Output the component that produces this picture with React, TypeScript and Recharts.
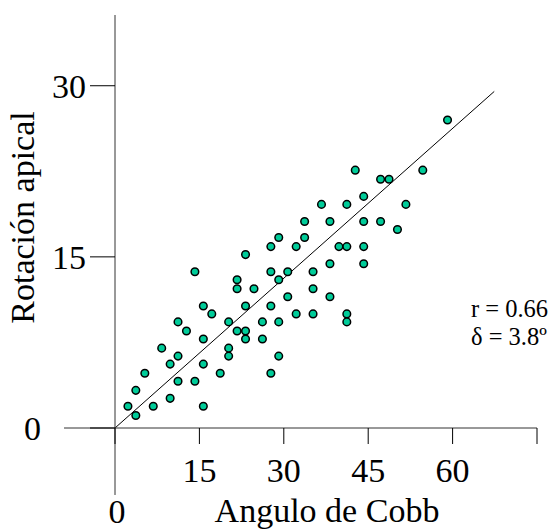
import { ScatterChart, Scatter, XAxis, YAxis, ReferenceLine } from 'recharts';

document.body.style.margin = '0';

const FONT = "'Liberation Serif', 'Times New Roman', serif";

// Angulo de Cobb (x) and Rotación apical (y)
const cobbAngle = [
  2.3, 3.7, 3.7, 5.3, 6.8, 8.3, 9.8, 9.8, 11.2, 11.2,
  11.2, 12.7, 14.2, 14.2, 15.7, 15.7, 15.7, 15.7, 17.2, 18.7,
  20.2, 20.2, 20.2, 21.7, 21.7, 21.7, 23.2, 23.2, 23.2, 23.2,
  24.7, 26.2, 26.2, 27.7, 27.7, 27.7, 27.7, 29.1, 29.1, 29.1,
  29.1, 30.7, 30.7, 32.2, 32.2, 33.7, 33.7, 35.2, 35.2, 35.2,
  59.1, 42.7, 47.2, 48.7, 54.7, 44.2, 36.7, 41.2, 51.7, 38.2,
  44.2, 47.2, 50.2, 39.8, 41.2, 44.2, 38.2, 44.2, 38.2, 41.2,
  41.2,
];
const apicalRotation = [
  1.9, 1.1, 3.3, 4.8, 1.9, 7.0, 2.6, 5.6, 6.3, 4.1,
  9.3, 8.5, 13.7, 4.1, 1.9, 5.6, 7.8, 10.7, 10.0, 4.8,
  6.3, 7.0, 9.3, 8.5, 12.2, 13.0, 15.2, 10.7, 8.5, 7.8,
  12.2, 9.3, 7.8, 15.9, 13.7, 10.7, 4.8, 16.7, 13.0, 9.3,
  6.3, 13.7, 11.5, 15.9, 10.0, 18.1, 16.7, 13.7, 12.2, 10.0,
  27.0, 22.6, 21.8, 21.8, 22.6, 20.3, 19.6, 19.6, 19.6, 18.1,
  18.1, 18.1, 17.4, 15.9, 15.9, 15.9, 14.4, 14.4, 11.5, 10.0,
  9.3,
];

const xTicks = [0, 15, 30, 45, 60, 75];
const yTicks = [0, 15, 30];

// regression line end points
const fitLine = [
  { x: 0, y: 0 },
  { x: 67.4, y: 29.5 },
];

const stats = ['r = 0.66', 'δ = 3.8º'];

const data = cobbAngle.map((x, i) => ({ x, y: apicalRotation[i] }));

const XTick = (props: any) => {
  const { x, y, payload } = props;
  if (payload.value === 75) return <g />;
  const isZero = payload.value === 0;
  return (
    <text
      x={isZero ? x + 2 : x}
      y={isZero ? y + 41 : y}
      dy="0.71em"
      textAnchor="middle"
      fontSize={34}
      fontFamily={FONT}
      fill="#000"
    >
      {payload.value}
    </text>
  );
};

const YTick = (props: any) => {
  const { x, y, payload } = props;
  const isZero = payload.value === 0;
  return (
    <text
      x={isZero ? 32.5 : x}
      y={y}
      dy="0.35em"
      textAnchor={isZero ? 'middle' : 'end'}
      fontSize={34}
      fontFamily={FONT}
      fill="#000"
    >
      {payload.value}
    </text>
  );
};

const renderXLabel = (props: any) => {
  const { x, y, width, height } = props.viewBox;
  return (
    <g>
      <text
        x={x + width / 2 + 1}
        y={y + height - 9}
        textAnchor="middle"
        fontSize={34}
        fontFamily={FONT}
        fill="#000"
      >
        Angulo de Cobb
      </text>
      {stats.map((s, i) => (
        <text
          key={s}
          x={471}
          y={317 + i * 28}
          fontSize={24.5}
          fontFamily={FONT}
          fill="#000"
        >
          {s}
        </text>
      ))}
    </g>
  );
};

const renderYLabel = (props: any) => {
  const { x, y, height } = props.viewBox;
  const cx = x + 34;
  const cy = y + height / 2 - 4;
  return (
    <text
      x={cx}
      y={cy}
      transform={`rotate(-90 ${cx} ${cy})`}
      textAnchor="middle"
      fontSize={34}
      fontFamily={FONT}
      fill="#000"
    >
      Rotación apical
    </text>
  );
};

const Dot = (props: any) => (
  <circle cx={props.cx} cy={props.cy} r={3.8} fill="#00CC99" stroke="#000" strokeWidth={1.5} />
);

export default function App() {
  return (
    <ScatterChart
      width={552}
      height={531}
      margin={{ top: 15, right: 15, bottom: 0, left: 0 }}
      style={{ background: '#fff' }}
    >
      <XAxis
        type="number"
        dataKey="x"
        domain={[0, 75]}
        ticks={xTicks}
        interval={0}
        height={103}
        tickSize={16}
        tickMargin={14}
        axisLine={{ stroke: '#333' }}
        tickLine={{ stroke: '#000' }}
        tick={XTick}
        label={renderXLabel}
      />
      <YAxis
        type="number"
        dataKey="y"
        domain={[0, 36.2]}
        ticks={yTicks}
        interval={0}
        width={115}
        tickSize={25}
        tickMargin={4}
        axisLine={{ stroke: '#333' }}
        tickLine={{ stroke: '#000' }}
        tick={YTick}
        label={renderYLabel}
      />
      <ReferenceLine
        segment={[{ x: -9.06, y: 0 }, { x: 0, y: 0 }]}
        stroke="#333"
        ifOverflow="visible"
      />
      <ReferenceLine
        segment={[{ x: 0, y: 0 }, { x: 0, y: -5.87 }]}
        stroke="#333"
        ifOverflow="visible"
      />
      <ReferenceLine segment={fitLine} stroke="#000" strokeWidth={1} ifOverflow="visible" />
      <Scatter data={data} shape={Dot} isAnimationActive={false} />
    </ScatterChart>
  );
}
